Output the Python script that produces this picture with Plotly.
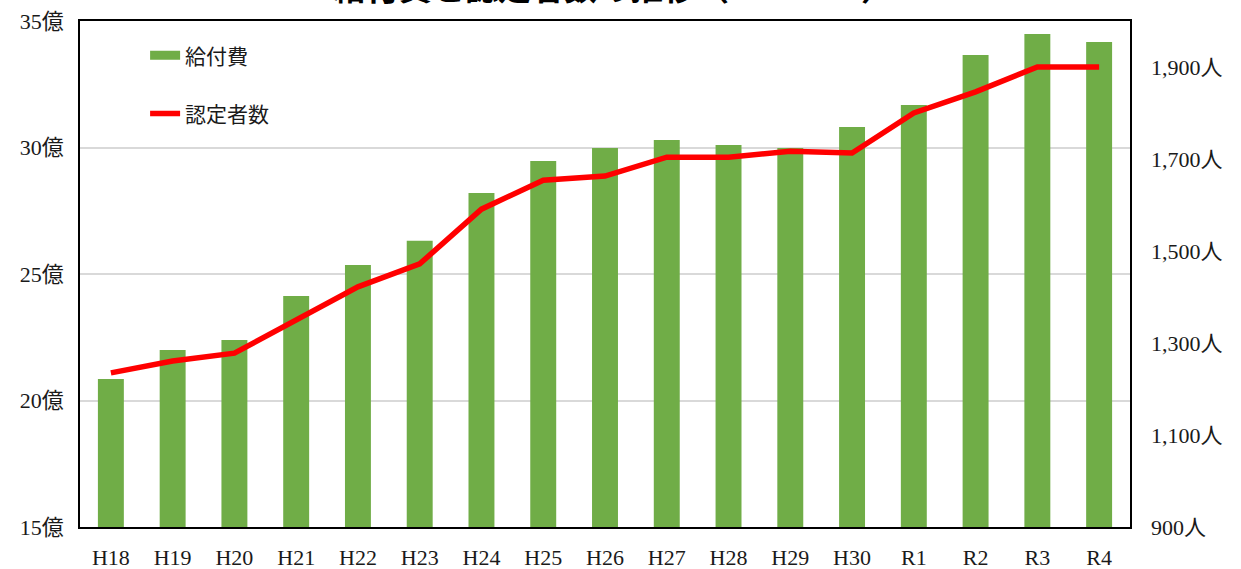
import plotly.graph_objects as go

years = ["H18", "H19", "H20", "H21", "H22", "H23", "H24", "H25", "H26",
         "H27", "H28", "H29", "H30", "R1", "R2", "R3", "R4"]
benefit_oku = [20.85, 22.00, 22.39, 24.13, 25.36, 26.31, 28.20, 29.47, 29.98,
               30.30, 30.10, 29.98, 30.81, 31.68, 33.66, 34.49, 34.17]
certified = [1235, 1261, 1278, 1350, 1422, 1472, 1591, 1654, 1663,
             1704, 1704, 1717, 1713, 1800, 1846, 1900, 1900]

left_ticks = [15, 20, 25, 30, 35]
right_ticks = [900, 1100, 1300, 1500, 1700, 1900]

GREEN = "#70ad47"
RED = "#ff0000"
FONT = "Liberation Serif, Noto Sans CJK JP, serif"

fig = go.Figure()
fig.add_trace(go.Bar(x=years, y=benefit_oku, marker=dict(color=GREEN, line=dict(width=0)),
                     showlegend=False, yaxis="y"))
fig.add_trace(go.Scatter(x=years, y=certified, mode="lines", yaxis="y2",
                         line=dict(color=RED, width=5.5), showlegend=False))
# legend entries
fig.add_trace(go.Scatter(x=[None], y=[None], mode="lines", name="給付費",
                         line=dict(color=GREEN, width=9), legendgroup="a"))
fig.add_trace(go.Scatter(x=[None], y=[None], mode="lines", name="認定者数",
                         line=dict(color=RED, width=5.5), legendgroup="b"))

fig.update_layout(
    width=1241, height=569,
    margin=dict(l=80, r=111, t=21, b=42, autoexpand=False),
    paper_bgcolor="white", plot_bgcolor="white",
    font=dict(family=FONT, size=22, color="#1a1a1a"),
    bargap=0.58,
    xaxis=dict(type="category", showline=True, mirror=True, linecolor="#000", linewidth=1.5,
               ticks="", showgrid=False, ticklabelstandoff=10, automargin=False),
    yaxis=dict(range=[15, 35], tickvals=left_ticks, ticktext=[f"{v}億" for v in left_ticks],
               showline=True, mirror=True, linecolor="#000", linewidth=1.5,
               showgrid=True, gridcolor="#d9d9d9", gridwidth=1.5, ticks="",
               ticklabelstandoff=10, zeroline=False, automargin=False),
    yaxis2=dict(range=[900, 2000], overlaying="y", side="right", tickvals=right_ticks,
                ticktext=[f"{v:,}人" for v in right_ticks], showgrid=False, showline=False,
                ticks="", ticklabelstandoff=20, zeroline=False, automargin=False),
    legend=dict(x=0.062, y=0.972, xanchor="left", yanchor="top", bgcolor="rgba(0,0,0,0)",
                font=dict(size=21), tracegroupgap=28, traceorder="grouped"),
    annotations=[dict(text="<b>給付費と認定者数の推移（H18～R4）</b>", xref="paper", yref="paper",
                      x=0.508, y=1, xanchor="center", yanchor="bottom", yshift=12,
                      showarrow=False, font=dict(size=33, color="#000"))],
)

fig.write_html("out.html", config={"displayModeBar": False},
               post_script="document.body.style.margin='0';")
